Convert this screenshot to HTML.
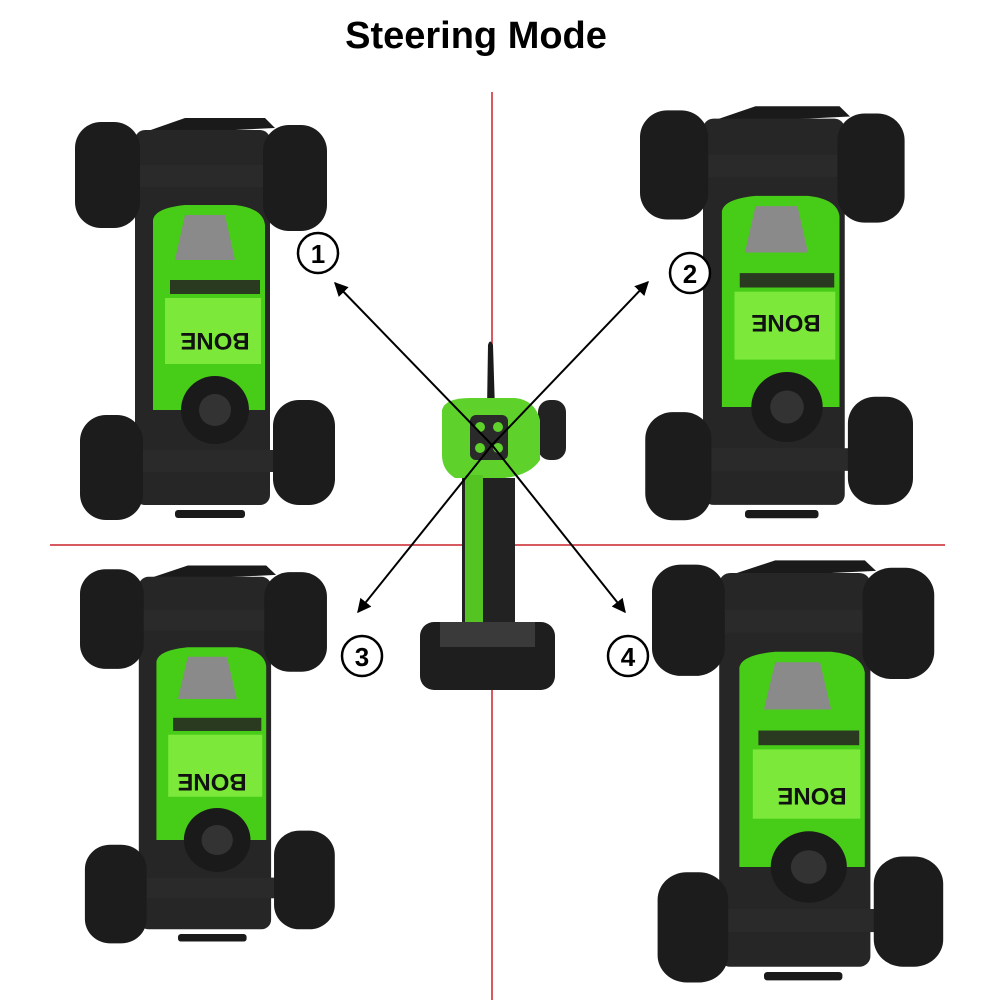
<!DOCTYPE html>
<html><head><style>html,body{margin:0;padding:0;background:#fff}</style></head>
<body>
<svg width="1000" height="1000" viewBox="0 0 1000 1000" xmlns="http://www.w3.org/2000/svg">
<defs>
<g id="car">
  <path d="M70 22 L110 8 L190 8 L200 18 L120 22 Z" fill="#1a1a1a"/>
  <rect x="60" y="20" width="135" height="375" rx="10" fill="#262626"/>
  <rect x="30" y="55" width="200" height="22" fill="#2a2a2a"/>
  <rect x="30" y="340" width="200" height="22" fill="#2a2a2a"/>
  <rect x="0" y="12" width="65" height="106" rx="26" fill="#1c1c1c"/>
  <rect x="188" y="15" width="64" height="106" rx="26" fill="#1c1c1c"/>
  <rect x="5" y="305" width="63" height="105" rx="26" fill="#1c1c1c"/>
  <rect x="198" y="290" width="62" height="105" rx="26" fill="#1c1c1c"/>
  <path d="M78 110 Q80 98 110 95 L160 95 Q188 98 190 115 L190 300 L78 300 Z" fill="#47cc18"/>
  <path d="M110 105 L150 105 L160 150 L100 150 Z" fill="#8a8a8a"/>
  <rect x="95" y="170" width="90" height="14" fill="#2a3a20"/>
  <rect x="90" y="188" width="96" height="66" fill="#7be83a"/>
  <circle cx="140" cy="300" r="34" fill="#1a1a1a"/>
  <circle cx="140" cy="300" r="16" fill="#333"/>
  <rect x="100" y="400" width="70" height="8" rx="3" fill="#1a1a1a"/>
</g>
<marker id="ah" viewBox="0 0 10 10" refX="9" refY="5" markerWidth="7" markerHeight="7" orient="auto"><path d="M0 0 L10 5 L0 10 Z" fill="#000"/></marker>
</defs>
<text x="476" y="48" text-anchor="middle" font-family="Liberation Sans, sans-serif" font-weight="bold" font-size="38">Steering Mode</text>
<line x1="492" y1="92" x2="492" y2="1000" stroke="#c8242c" stroke-width="1.5"/>
<line x1="50" y1="545" x2="945" y2="545" stroke="#c8242c" stroke-width="1.5"/>

<g transform="translate(75,110)"><use href="#car"/></g>
<g transform="translate(640,98) scale(1.05,1.03)"><use href="#car"/></g>
<g transform="translate(80,558) scale(0.98,0.94)"><use href="#car"/></g>
<g transform="translate(652,552) scale(1.12,1.05)"><use href="#car"/></g>

<g font-family="Liberation Sans, sans-serif" font-weight="bold" font-size="24" fill="#111" text-anchor="middle">
<text transform="translate(215,333) rotate(180)">BONE</text>
<text transform="translate(786,315) rotate(180)">BONE</text>
<text transform="translate(212,774) rotate(180)">BONE</text>
<text transform="translate(812,788) rotate(180)">BONE</text>
</g>

<!-- controller -->
<path d="M487 410 L488 345 Q490 338 493 345 L495 410 Z" fill="#1a1a1a"/>
<rect x="538" y="400" width="28" height="60" rx="12" fill="#222"/>
<path d="M442 410 Q445 398 470 398 L515 398 Q535 400 540 420 L540 460 Q530 475 505 478 L455 478 Q442 470 442 455 Z" fill="#5ed12a"/>
<rect x="470" y="415" width="38" height="45" rx="6" fill="#2a2a2a"/>
<circle cx="480" cy="427" r="5" fill="#5ed12a"/><circle cx="498" cy="427" r="5" fill="#5ed12a"/>
<circle cx="480" cy="448" r="5" fill="#5ed12a"/><circle cx="498" cy="448" r="5" fill="#5ed12a"/>
<path d="M462 478 L515 478 L515 640 L462 640 Z" fill="#222"/>
<rect x="465" y="475" width="18" height="165" fill="#55c322"/>
<rect x="420" y="622" width="135" height="68" rx="14" fill="#1e1e1e"/>
<rect x="440" y="622" width="95" height="25" fill="#3a3a3a"/>

<!-- arrows -->
<g stroke="#000" stroke-width="2" marker-end="url(#ah)">
<line x1="492" y1="445" x2="335" y2="283"/>
<line x1="492" y1="445" x2="648" y2="282"/>
<line x1="492" y1="445" x2="358" y2="612"/>
<line x1="492" y1="445" x2="625" y2="612"/>
</g>
<g fill="#fff" stroke="#000" stroke-width="2.5">
<circle cx="318" cy="253" r="20"/><circle cx="690" cy="273" r="20"/>
<circle cx="362" cy="656" r="20"/><circle cx="628" cy="656" r="20"/>
</g>
<g font-family="Liberation Sans, sans-serif" font-weight="bold" font-size="26" text-anchor="middle">
<text x="318" y="263">1</text><text x="690" y="283">2</text>
<text x="362" y="666">3</text><text x="628" y="666">4</text>
</g>
</svg>
</body></html>
